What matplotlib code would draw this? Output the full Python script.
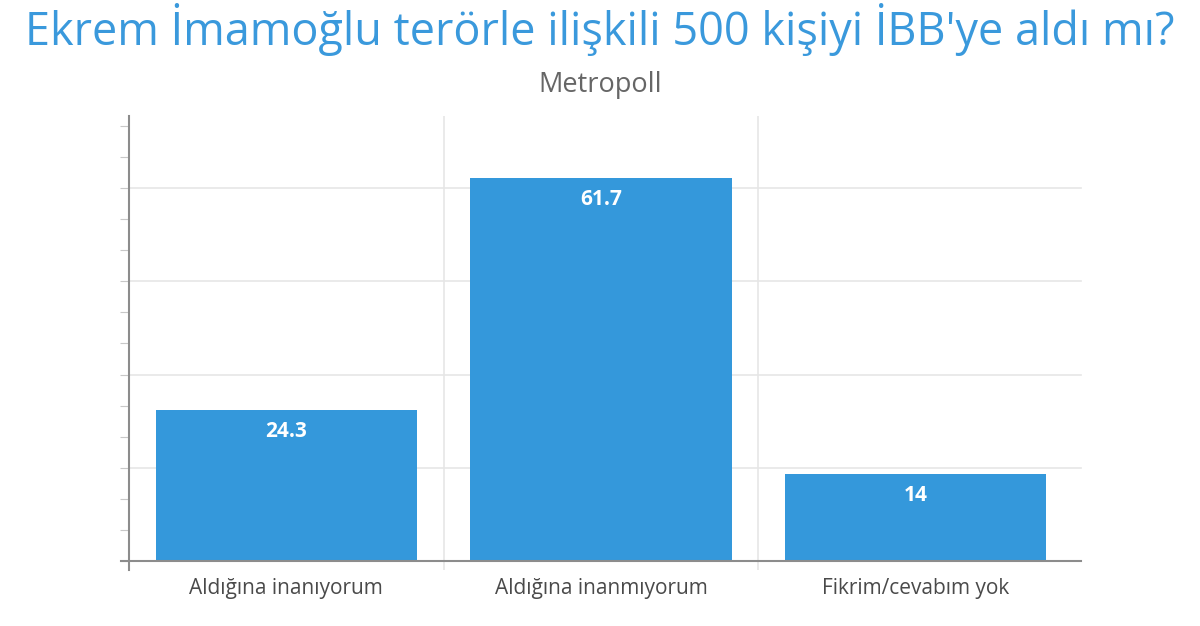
import matplotlib
matplotlib.use("Agg")
import matplotlib.pyplot as plt
import numpy as np

title = "Ekrem İmamoğlu terörle ilişkili 500 kişiyi İBB'ye aldı mı?"
subtitle = "Metropoll"
categories = ["Aldığına inanıyorum", "Aldığına inanmıyorum", "Fikrim/cevabım yok"]
values = [24.3, 61.7, 14]
value_labels = ["24.3", "61.7", "14"]
grid_values = [15, 30, 45, 60]
tick_values = list(range(0, 75, 5))

plt.rcParams['font.family'] = ['Open Sans', 'DejaVu Sans']

BAR = "#3498db"
fig = plt.figure(figsize=(12, 6.26), dpi=100)
ax = fig.add_axes([129/1200, 56/626, (1073-129)/1200, (510-56)/626])

x = np.arange(len(categories))
ax.bar(x, values, width=0.83, color=BAR, zorder=3)
ax.set_xlim(-0.5, 2.5)
ax.set_ylim(-1.45, 71.6)

for xi, v, lab in zip(x, values, value_labels):
    ax.annotate(lab, (xi, v), xytext=(0, -15.5), textcoords="offset points",
                ha="center", va="center", color="white", fontsize=15, fontweight="bold", zorder=4)

for g in grid_values:
    ax.axhline(g, xmax=1.008, color="#e6e6e6", lw=1.2, zorder=1, clip_on=False)
ax.axhline(0, xmin=-0.009, xmax=1.008, color="#8c8c8c", lw=1.5, zorder=4, clip_on=False)
for b in [0.5, 1.5]:
    ax.vlines(b, -1.45, 71.6, color="#e6e6e6", lw=1.2, zorder=1)

for s in ["top", "right", "bottom"]:
    ax.spines[s].set_visible(False)
ax.spines["left"].set_color("#8c8c8c")
ax.spines["left"].set_linewidth(1.5)
ax.spines["left"].set_zorder(5)

ax.set_yticks(tick_values)
ax.set_yticklabels([])
ax.tick_params(axis="y", length=6.5, width=0.8, color="#c8c8c8")
ax.set_xticks(x)
ax.set_xticklabels(categories, fontsize=15, color="#4a4a4a")
ax.tick_params(axis="x", length=0, pad=6)

fig.text(0.5, 1 - 30/626, title, ha="center", va="center", fontsize=32.4, color="#3a99dc")
fig.text(0.5, 1 - 85/626, subtitle, ha="center", va="center", fontsize=19.5, color="#666666")

fig.savefig("out.png", dpi=100)
